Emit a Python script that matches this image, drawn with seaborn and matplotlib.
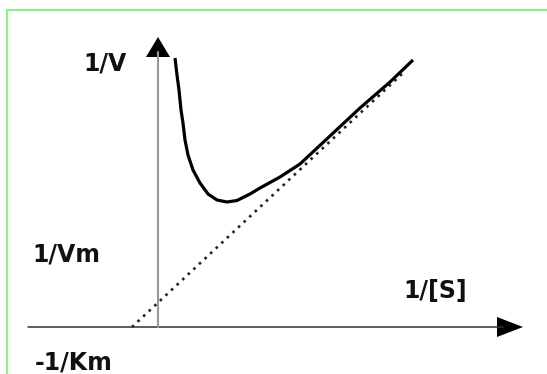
import numpy as np
import pandas as pd
import matplotlib.pyplot as plt
import seaborn as sns
from matplotlib.patches import Rectangle

# Lineweaver-Burk plot with substrate inhibition
curve_x = [0.17, 0.19, 0.21, 0.23, 0.25, 0.27, 0.30, 0.35, 0.42, 0.50, 0.59,
           0.69, 0.79, 0.92, 1.02, 1.22, 1.42, 1.72, 2.02, 2.32, 2.55]
curve_y = [2.69, 2.52, 2.37, 2.17, 2.04, 1.87, 1.72, 1.57, 1.44, 1.33, 1.27,
           1.25, 1.265, 1.33, 1.39, 1.50, 1.63, 1.91, 2.19, 2.45, 2.67]

asym_x = [-0.26, 2.45]
asym_y = [0.0, 2.54]

axis_x = [-1.30, 3.65]
axis_y = [0.0, 2.90]

labels = ["1/V", "1/Vm", "1/[S]", "-1/Km"]
label_x = [-0.75, -1.26, 2.45, -1.23]
label_y = [2.57, 0.65, 0.29, -0.425]

sns.set_style("white")
plt.rcParams['font.family'] = ['DejaVu Sans']

fig = plt.figure(figsize=(5.47, 3.74), dpi=100)
ax = fig.add_axes([0, 0, 1, 1])
ax.set_xlim(-1.58, 3.89)
ax.set_ylim(-0.47, 3.27)

# green frame
fig.patches.append(Rectangle((7 / 547, -0.1), 1.2, 1 - 10 / 374 + 0.1,
                             transform=fig.transFigure, fill=False,
                             edgecolor="#8fef8f", linewidth=1.6))

# axes lines with arrow heads
ax.plot([axis_x[0], axis_x[1] - 0.2], [0, 0], color="#333333", lw=1.1)
ax.plot([0, 0], [0, axis_y[1] - 0.15], color="#999999", lw=1.5)
ax.fill([axis_x[1] - 0.26, axis_x[1], axis_x[1] - 0.26], [0.10, 0, -0.10],
        color="black", lw=0)
ax.fill([-0.12, 0, 0.12], [axis_y[1] - 0.20, axis_y[1], axis_y[1] - 0.20],
        color="black", lw=0)

df_c = pd.DataFrame({"x": curve_x, "y": curve_y})
df_a = pd.DataFrame({"x": asym_x, "y": asym_y})
sns.lineplot(data=df_a, x="x", y="y", ax=ax, color="#222222", lw=1.9,
             linestyle=(0, (1, 1.9)), sort=False)
sns.lineplot(data=df_c, x="x", y="y", ax=ax, color="black", lw=2.3,
             sort=False, solid_joinstyle="round", solid_capstyle="butt")
ax.axis("off")

for t, x, y in zip(labels, label_x, label_y):
    ax.text(x, y, t, fontsize=17, fontweight="bold", color="#111111",
            ha="left", va="baseline")

fig.savefig("out.png", dpi=100)
